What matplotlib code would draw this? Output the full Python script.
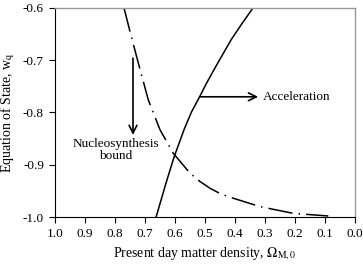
import numpy as np
import matplotlib
matplotlib.use('Agg')
import matplotlib.pyplot as plt

plt.rcParams['font.family'] = ['Liberation Serif', 'DejaVu Serif']
plt.rcParams['mathtext.fontset'] = 'stix'
plt.rcParams['axes.unicode_minus'] = False

# nucleosynthesis bound (dash-dot curve)
omega_nuc = [0.770, 0.750, 0.722, 0.689, 0.650, 0.606, 0.550, 0.517, 0.483, 0.447,
             0.406, 0.317, 0.206, 0.089]
w_nuc = [-0.600, -0.645, -0.706, -0.776, -0.833, -0.878, -0.916, -0.932, -0.945, -0.956,
         -0.964, -0.980, -0.993, -0.998]

# acceleration boundary (solid curve)
omega_acc = [0.663, 0.630, 0.603, 0.570, 0.545, 0.518, 0.493, 0.465, 0.413, 0.378, 0.340]
w_acc = [-1.000, -0.935, -0.885, -0.833, -0.799, -0.770, -0.742, -0.713, -0.661, -0.631, -0.600]

xticks = [1.0, 0.9, 0.8, 0.7, 0.6, 0.5, 0.4, 0.3, 0.2, 0.1, 0.0]
yticks = [-1.0, -0.9, -0.8, -0.7, -0.6]

fig = plt.figure(figsize=(3.63, 2.73), dpi=100)
ax = fig.add_axes([0.1515, 0.205, 0.8265, 0.766])

ax.plot(omega_acc, w_acc, color='black', lw=1.1)
line, = ax.plot(omega_nuc, w_nuc, color='black', lw=1.1)
line.set_dashes([16, 4, 1, 4])

ax.set_xlim(1.0, 0.0)
ax.set_ylim(-1.0, -0.6)
ax.set_xticks(xticks)
ax.set_yticks(yticks)
ax.set_xticklabels(['%.1f' % v for v in xticks])
ax.set_yticklabels(['%.1f' % v for v in yticks])
ax.tick_params(direction='out', length=4, width=0.8, labelsize=9.5, pad=4)

for s in ['top', 'right']:
    ax.spines[s].set_color('#999999')
    ax.spines[s].set_linewidth(1.0)
for s in ['left', 'bottom']:
    ax.spines[s].set_color('black')
    ax.spines[s].set_linewidth(0.8)

ax.set_xlabel(r'Present day matter density, $\Omega_{\mathrm{M,0}}$', fontsize=10)
ax.set_ylabel(r'Equation of State, w$_{\mathrm{q}}$', fontsize=10)

ax.annotate('', xy=(0.74, -0.843), xytext=(0.74, -0.696),
            arrowprops=dict(arrowstyle='->', color='black', lw=1.2,
                            mutation_scale=14, shrinkA=0, shrinkB=0))
ax.text(0.797, -0.872, 'Nucleosynthesis\nbound', ha='center', va='center',
        fontsize=9.5, linespacing=1.0)

ax.annotate('', xy=(0.323, -0.770), xytext=(0.518, -0.770),
            arrowprops=dict(arrowstyle='->', color='black', lw=1.2,
                            mutation_scale=14, shrinkA=0, shrinkB=0))
ax.text(0.307, -0.770, 'Acceleration', ha='left', va='center', fontsize=9.5)

fig.savefig('out.png', dpi=100)
